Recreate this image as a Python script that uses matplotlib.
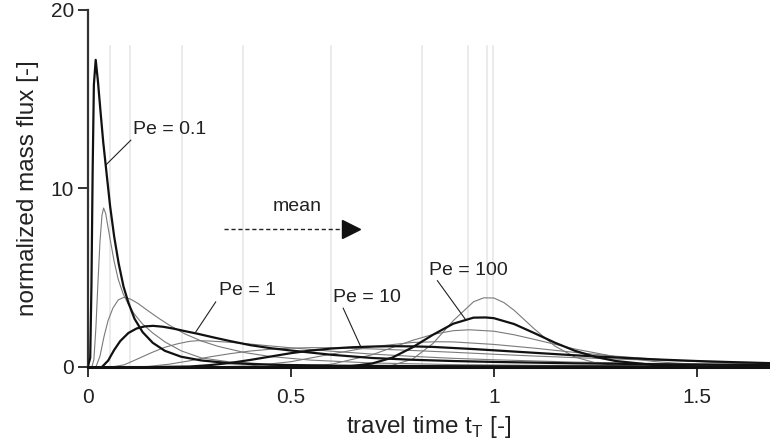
import matplotlib
matplotlib.use("Agg")
import matplotlib.pyplot as plt

plt.rcParams['font.family'] = ['Liberation Sans', 'DejaVu Sans']
plt.rcParams['mathtext.fontset'] = 'custom'
plt.rcParams['mathtext.rm'] = 'Liberation Sans'

# curvas (tiempo de viaje, flujo de masa normalizado)
t_pe01 = [0, 0.006, 0.009, 0.012, 0.015, 0.0195, 0.025, 0.031, 0.038, 0.046, 0.055, 0.065, 0.076, 0.088,
          0.1, 0.115, 0.135, 0.16, 0.19, 0.23, 0.28, 0.35, 0.45, 0.6, 0.8, 1.1, 1.4, 1.7]
q_pe01 = [0, 0.5, 4.5, 11.0, 15.8, 17.2, 16.0, 14.4, 12.6, 10.9, 9.0, 7.3, 5.8, 4.5,
          3.6, 2.7, 1.95, 1.35, 0.9, 0.57, 0.36, 0.21, 0.12, 0.07, 0.045, 0.03, 0.02, 0.015]

t_pe02 = [0.01, 0.015, 0.02, 0.025, 0.03, 0.035, 0.039, 0.044, 0.05, 0.057, 0.065, 0.075, 0.087, 0.1,
          0.115, 0.135, 0.16, 0.19, 0.23, 0.28, 0.35, 0.45, 0.6, 0.8, 1.1, 1.4, 1.7]
q_pe02 = [0, 0.4, 2.2, 4.7, 7.0, 8.5, 8.9, 8.6, 7.8, 6.9, 5.9, 4.9, 4.1, 3.5,
          2.95, 2.4, 1.9, 1.4, 0.9, 0.5, 0.28, 0.15, 0.08, 0.05, 0.035, 0.025, 0.02]

t_pe05 = [0.02, 0.03, 0.04, 0.05, 0.062, 0.075, 0.089, 0.105, 0.124, 0.145, 0.173, 0.2, 0.239, 0.28,
          0.321, 0.387, 0.45, 0.55, 0.7, 0.9, 1.1, 1.4, 1.7]
q_pe05 = [0, 0.6, 1.7, 2.6, 3.3, 3.75, 3.9, 3.8, 3.55, 3.2, 2.75, 2.35, 1.85, 1.45,
          1.15, 0.8, 0.58, 0.38, 0.22, 0.13, 0.09, 0.06, 0.04]

t_pe1 = [0.035, 0.05, 0.065, 0.08, 0.1, 0.12, 0.14, 0.161, 0.185, 0.21, 0.24, 0.27, 0.31, 0.35,
         0.4, 0.45, 0.5, 0.55, 0.6, 0.7, 0.8, 0.9, 1.0, 1.2, 1.4, 1.7]
q_pe1 = [0, 0.35, 0.95, 1.45, 1.9, 2.15, 2.27, 2.3, 2.25, 2.15, 2.0, 1.86, 1.65, 1.45,
         1.22, 1.05, 0.92, 0.8, 0.68, 0.5, 0.4, 0.33, 0.28, 0.2, 0.15, 0.1]

t_pe2 = [0.06, 0.09, 0.12, 0.157, 0.19, 0.222, 0.25, 0.27, 0.3, 0.35, 0.4, 0.5, 0.6, 0.7,
         0.8, 0.9, 1.0, 1.2, 1.4, 1.7]
q_pe2 = [0, 0.12, 0.42, 0.8, 1.1, 1.3, 1.43, 1.47, 1.45, 1.38, 1.28, 1.07, 0.88, 0.72,
         0.59, 0.48, 0.4, 0.27, 0.19, 0.12]

t_pe5 = [0.12, 0.15, 0.2, 0.25, 0.3, 0.35, 0.4, 0.45, 0.5, 0.55, 0.6, 0.7, 0.8, 0.9,
         1.0, 1.1, 1.2, 1.3, 1.4, 1.5, 1.6, 1.7]
q_pe5 = [0, 0.03, 0.15, 0.34, 0.56, 0.74, 0.89, 0.99, 1.05, 1.08, 1.07, 1.01, 0.92, 0.82,
         0.71, 0.61, 0.52, 0.44, 0.37, 0.31, 0.26, 0.22]

t_pe10 = [0.18, 0.25, 0.3, 0.35, 0.4, 0.45, 0.5, 0.55, 0.6, 0.65, 0.7, 0.75, 0.8, 0.85,
          0.9, 0.95, 1.0, 1.1, 1.2, 1.3, 1.4, 1.5, 1.6, 1.7]
q_pe10 = [0, 0.02, 0.1, 0.22, 0.39, 0.58, 0.77, 0.92, 1.03, 1.1, 1.14, 1.16, 1.15, 1.12,
          1.06, 1.0, 0.93, 0.79, 0.65, 0.53, 0.42, 0.33, 0.26, 0.2]

t_pe20 = [0.3, 0.4, 0.5, 0.6, 0.7, 0.8, 0.86, 0.9, 1.0, 1.1, 1.2, 1.3, 1.4, 1.5, 1.6, 1.7]
q_pe20 = [0, 0.055, 0.29, 0.72, 1.13, 1.37, 1.41, 1.4, 1.26, 1.05, 0.81, 0.6, 0.43, 0.3, 0.2, 0.135]

t_pe50 = [0.5, 0.6, 0.7, 0.8, 0.85, 0.9, 0.94, 1.0, 1.05, 1.1, 1.2, 1.3, 1.4, 1.5, 1.6, 1.7]
q_pe50 = [0.01, 0.15, 0.68, 1.49, 1.82, 2.03, 2.08, 2.0, 1.8, 1.54, 1.0, 0.57, 0.29, 0.135, 0.06, 0.025]

t_pe100 = [0.6, 0.65, 0.7, 0.75, 0.8, 0.85, 0.9, 0.95, 0.98, 1.0, 1.05, 1.1, 1.15, 1.2,
           1.25, 1.3, 1.4, 1.5, 1.6, 1.7]
q_pe100 = [0.007, 0.047, 0.19, 0.52, 1.1, 1.8, 2.42, 2.76, 2.77, 2.73, 2.4, 1.89, 1.36, 0.9,
           0.56, 0.33, 0.095, 0.023, 0.005, 0.001]

t_pe200 = [0.7, 0.75, 0.8, 0.85, 0.9, 0.95, 0.975, 1.0, 1.025, 1.05, 1.1, 1.15, 1.2, 1.25, 1.3, 1.4, 1.7]
q_pe200 = [0.01, 0.09, 0.44, 1.31, 2.59, 3.65, 3.87, 3.86, 3.6, 3.17, 2.12, 1.17, 0.55, 0.23, 0.08, 0.008, 0]

# lineas verticales grises
t_vlines = [0.054, 0.104, 0.232, 0.383, 0.599, 0.822, 0.936, 0.984, 0.998]

curvas_finas = [(t_pe02, q_pe02), (t_pe05, q_pe05), (t_pe2, q_pe2), (t_pe5, q_pe5),
                (t_pe20, q_pe20), (t_pe50, q_pe50), (t_pe200, q_pe200)]
curvas_gruesas = [(t_pe01, q_pe01), (t_pe1, q_pe1), (t_pe10, q_pe10), (t_pe100, q_pe100)]

fig = plt.figure(figsize=(7.7, 4.48), dpi=100)
ax = fig.add_axes([0.114, 0.181, 0.886, 0.797])

for xv in t_vlines:
    ax.plot([xv, xv], [0, 18], color='#e6e6e6', lw=1.1, zorder=1)

for t, q in curvas_finas:
    ax.plot(t, q, color='#7a7a7a', lw=0.8, zorder=2)
for t, q in curvas_gruesas:
    ax.plot(t, q, color='#111111', lw=1.6, zorder=3)

# etiquetas Pe
kw = dict(fontsize=14, color='#222222', va='center', ha='left')
ax.text(0.111, 13.3, 'Pe = 0.1', **kw)
ax.plot([0.044, 0.106], [11.3, 12.7], color='#222222', lw=0.8)
ax.text(0.323, 4.3, 'Pe = 1', **kw)
ax.plot([0.266, 0.315], [1.96, 3.64], color='#222222', lw=0.8)
ax.text(0.603, 3.9, 'Pe = 10', **kw)
ax.plot([0.672, 0.629], [1.14, 3.29], color='#222222', lw=0.8)
ax.text(0.84, 5.4, 'Pe = 100', **kw)
ax.plot([0.861, 0.931], [4.83, 2.63], color='#222222', lw=0.8)

# flecha "mean"
ax.text(0.515, 9.0, 'mean', fontsize=14, color='#222222', ha='center', va='center')
ax.plot([0.335, 0.64], [7.73, 7.73], color='#222222', lw=1.0, ls=(0, (3, 2)))
ax.plot([0.648], [7.73], marker='>', markersize=13, color='#111111', lw=0)

ax.set_xlim(0, 1.68)
ax.set_ylim(0, 20)
ax.set_xticks([0, 0.5, 1, 1.5])
ax.set_xticklabels(['0', '0.5', '1', '1.5'])
ax.set_yticks([0, 10, 20])
ax.tick_params(axis='both', direction='out', length=7, width=1.3, colors='#222222', labelsize=15, pad=3)
ax.tick_params(axis='x', pad=8)

for s in ['top', 'right']:
    ax.spines[s].set_visible(False)
ax.spines['left'].set_linewidth(1.6)
ax.spines['left'].set_color('#333333')
ax.spines['bottom'].set_linewidth(2.2)
ax.spines['bottom'].set_color('#111111')

ax.set_xlabel(r'travel time t$_\mathrm{T}$ [-]', fontsize=17.5, color='#222222', labelpad=5)
ax.set_ylabel('normalized mass flux [-]', fontsize=17.5, color='#222222', labelpad=8)

fig.savefig('out.png', dpi=100)
